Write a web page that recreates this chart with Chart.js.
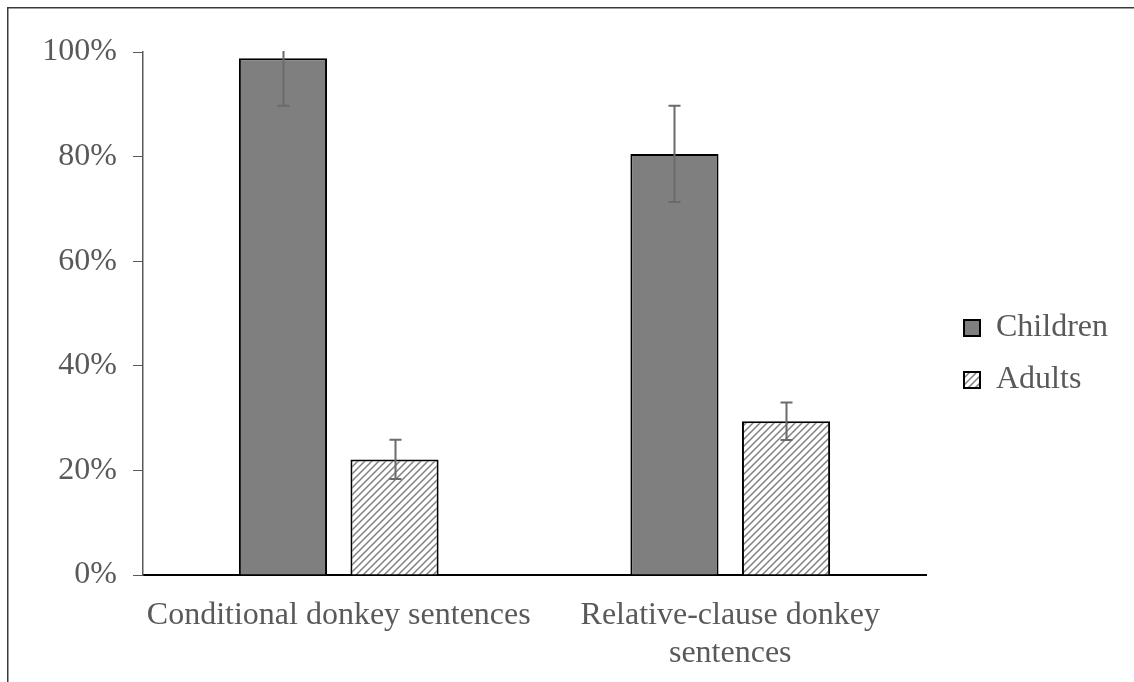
<!DOCTYPE html>
<html>
<head>
<meta charset="utf-8">
<script src="https://cdn.jsdelivr.net/npm/chart.js@4.4.1/dist/chart.umd.min.js"></script>
<style>
html,body{margin:0;padding:0;background:#fff;}
#wrap{position:relative;width:1134px;height:682px;}
</style>
</head>
<body>
<div id="wrap"><canvas id="c" width="1134" height="682"></canvas></div>
<script>
const categories = ['Conditional donkey sentences', ['Relative-clause donkey', 'sentences']];
const seriesNames = ['Children', 'Adults'];
const childrenValues = [98.8, 80.5];
const adultsValues = [22.1, 29.4];
const childrenErrors = [9.1, 9.2];
const adultsErrors = [3.75, 3.6];
const yTicks = [0, 20, 40, 60, 80, 100];

const FONT = '"Liberation Serif", "Times New Roman", serif';
const TEXT = '#595959';
const FS = 32;

function makeHatch() {
  const s = 7;
  const c = document.createElement('canvas');
  c.width = s; c.height = s;
  const g = c.getContext('2d');
  g.fillStyle = '#ffffff';
  g.fillRect(0, 0, s, s);
  g.strokeStyle = '#808080';
  g.lineWidth = 1.5;
  g.beginPath();
  g.moveTo(-1, s + 1); g.lineTo(s + 1, -1);
  g.moveTo(-1, 1); g.lineTo(1, -1);
  g.moveTo(s - 1, s + 1); g.lineTo(s + 1, s - 1);
  g.stroke();
  return document.getElementById('c').getContext('2d').createPattern(c, 'repeat');
}
const hatch = makeHatch();

const errorsByDataset = [childrenErrors, adultsErrors];

const framePlugin = {
  id: 'frame',
  beforeDraw(chart) {
    const ctx = chart.ctx;
    ctx.save();
    ctx.fillStyle = '#ffffff';
    ctx.fillRect(0, 0, chart.width, chart.height);
    ctx.fillStyle = '#3a3a3a';
    ctx.fillRect(7, 7, chart.width - 7, 1.5);
    ctx.fillRect(7, 7, 1.5, chart.height - 7);
    ctx.restore();
  }
};

const errorBarPlugin = {
  id: 'errorBars',
  afterDatasetsDraw(chart) {
    const ctx = chart.ctx;
    const y = chart.scales.y;
    const area = chart.chartArea;
    ctx.save();
    ctx.beginPath();
    ctx.rect(area.left, area.top - 1, area.right - area.left, area.bottom - area.top + 1);
    ctx.clip();
    ctx.strokeStyle = '#6b6b6b';
    ctx.lineWidth = 2;
    chart.data.datasets.forEach((ds, di) => {
      const meta = chart.getDatasetMeta(di);
      meta.data.forEach((bar, i) => {
        const v = ds.data[i];
        const e = errorsByDataset[di][i];
        const yt = y.getPixelForValue(v + e);
        const yb = y.getPixelForValue(v - e);
        const x = Math.round(bar.x) + 0.5;
        ctx.beginPath();
        ctx.moveTo(x, yt); ctx.lineTo(x, yb);
        ctx.moveTo(x - 6, yt); ctx.lineTo(x + 6, yt);
        ctx.moveTo(x - 6, yb); ctx.lineTo(x + 6, yb);
        ctx.stroke();
      });
    });
    ctx.restore();
  }
};

const chart = new Chart(document.getElementById('c'), {
  type: 'bar',
  data: {
    labels: categories,
    datasets: [
      { label: seriesNames[0], data: childrenValues, backgroundColor: '#7f7f7f', borderColor: '#000000', borderWidth: 2 },
      { label: seriesNames[1], data: adultsValues, backgroundColor: hatch, borderColor: '#000000', borderWidth: 2 }
    ]
  },
  options: {
    responsive: false,
    animation: false,
    devicePixelRatio: 1,
    categoryPercentage: 0.57,
    barPercentage: 0.79,
    layout: { padding: { left: 0, top: 52, right: 20, bottom: 0 } },
    plugins: {
      legend: {
        position: 'right',
        labels: {
          font: { family: FONT, size: FS },
          color: TEXT,
          boxWidth: 16,
          boxHeight: 16,
          padding: 20
        }
      },
      tooltip: { enabled: false }
    },
    scales: {
      x: {
        grid: { display: false },
        border: { color: '#000000', width: 2 },
        ticks: {
          font: { family: FONT, size: FS },
          color: TEXT,
          maxRotation: 0,
          autoSkip: false,
          padding: 13
        },
        afterFit(scale) { scale.height = 107; }
      },
      y: {
        min: 0,
        max: 100,
        afterBuildTicks(scale) { scale.ticks = yTicks.map(v => ({ value: v })); },
        grid: { display: true, drawOnChartArea: false, drawTicks: true, tickLength: 10, color: '#595959' },
        border: { color: '#595959', width: 1.5 },
        ticks: {
          font: { family: FONT, size: FS },
          color: TEXT,
          padding: 16,
          callback: v => v + '%'
        },
        afterFit(scale) { scale.width = 143; }
      }
    }
  },
  plugins: [framePlugin, errorBarPlugin]
});

// Reserve the legend's column so the plot ends where the reference's does,
// and nudge the legend items to the reference position.
const legend = chart.legend;
const origFit = legend.fit;
legend.fit = function () { origFit.call(this); this.width = 188; };
const origDraw = legend.draw;
legend.draw = function () {
  const ctx = this.ctx;
  ctx.save();
  ctx.translate(18, -13);
  origDraw.call(this);
  ctx.restore();
};
chart.update();
</script>
</body>
</html>
